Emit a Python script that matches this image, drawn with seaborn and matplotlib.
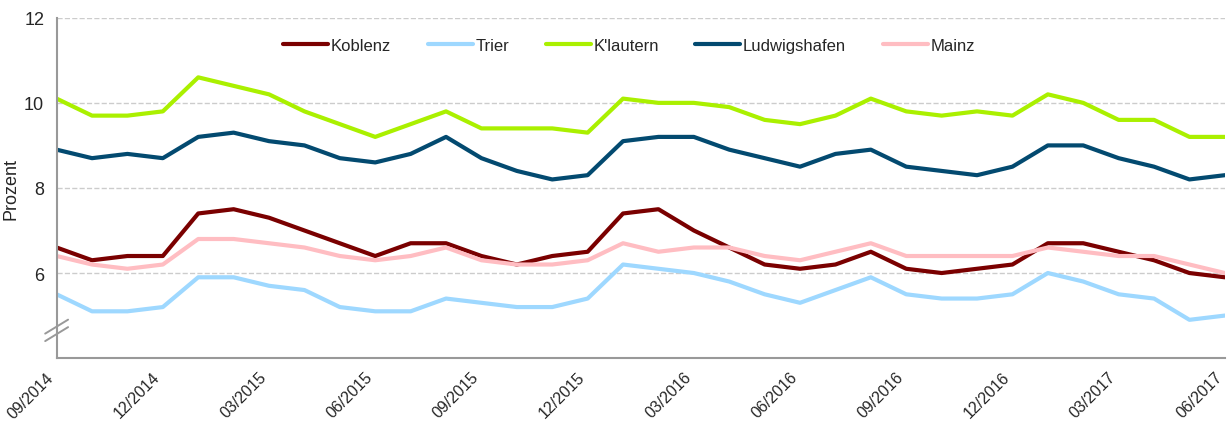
import pandas as pd
import numpy as np
import matplotlib
matplotlib.use("Agg")
import matplotlib.pyplot as plt
import seaborn as sns

# Monatsdaten 09/2014 - 06/2017
months = ['09/2014', '10/2014', '11/2014', '12/2014', '01/2015', '02/2015', '03/2015', '04/2015',
          '05/2015', '06/2015', '07/2015', '08/2015', '09/2015', '10/2015', '11/2015', '12/2015',
          '01/2016', '02/2016', '03/2016', '04/2016', '05/2016', '06/2016', '07/2016', '08/2016',
          '09/2016', '10/2016', '11/2016', '12/2016', '01/2017', '02/2017', '03/2017', '04/2017',
          '05/2017', '06/2017']

koblenz = [6.6, 6.3, 6.4, 6.4, 7.4, 7.5, 7.3, 7.0, 6.7, 6.4, 6.7, 6.7, 6.4, 6.2, 6.4, 6.5, 7.4,
           7.5, 7.0, 6.6, 6.2, 6.1, 6.2, 6.5, 6.1, 6.0, 6.1, 6.2, 6.7, 6.7, 6.5, 6.3, 6.0, 5.9]
trier = [5.5, 5.1, 5.1, 5.2, 5.9, 5.9, 5.7, 5.6, 5.2, 5.1, 5.1, 5.4, 5.3, 5.2, 5.2, 5.4, 6.2,
         6.1, 6.0, 5.8, 5.5, 5.3, 5.6, 5.9, 5.5, 5.4, 5.4, 5.5, 6.0, 5.8, 5.5, 5.4, 4.9, 5.0]
klautern = [10.1, 9.7, 9.7, 9.8, 10.6, 10.4, 10.2, 9.8, 9.5, 9.2, 9.5, 9.8, 9.4, 9.4, 9.4, 9.3, 10.1,
            10.0, 10.0, 9.9, 9.6, 9.5, 9.7, 10.1, 9.8, 9.7, 9.8, 9.7, 10.2, 10.0, 9.6, 9.6, 9.2, 9.2]
ludwigshafen = [8.9, 8.7, 8.8, 8.7, 9.2, 9.3, 9.1, 9.0, 8.7, 8.6, 8.8, 9.2, 8.7, 8.4, 8.2, 8.3, 9.1,
                9.2, 9.2, 8.9, 8.7, 8.5, 8.8, 8.9, 8.5, 8.4, 8.3, 8.5, 9.0, 9.0, 8.7, 8.5, 8.2, 8.3]
mainz = [6.4, 6.2, 6.1, 6.2, 6.8, 6.8, 6.7, 6.6, 6.4, 6.3, 6.4, 6.6, 6.3, 6.2, 6.2, 6.3, 6.7,
         6.5, 6.6, 6.6, 6.4, 6.3, 6.5, 6.7, 6.4, 6.4, 6.4, 6.4, 6.6, 6.5, 6.4, 6.4, 6.2, 6.0]

regions = ['Koblenz', 'Trier', "K'lautern", 'Ludwigshafen', 'Mainz']
colors = ['#7A0000', '#9ED8FF', '#AAF000', '#034A70', '#FFBDC2']

df = pd.DataFrame({'idx': range(len(months)), 'Koblenz': koblenz, 'Trier': trier,
                   "K'lautern": klautern, 'Ludwigshafen': ludwigshafen, 'Mainz': mainz})
df_long = df.melt(id_vars='idx', var_name='Region', value_name='Wert')

sns.set_style('white')
plt.rcParams['font.family'] = ['Liberation Sans', 'DejaVu Sans']

fig = plt.figure(figsize=(12.31, 4.27), dpi=100)
ax = fig.add_axes([0.046, 0.159, 0.949, 0.797])

sns.lineplot(data=df_long, x='idx', y='Wert', hue='Region', hue_order=regions,
             palette=colors, linewidth=3.0, ax=ax)

ax.set_xlim(0, len(months) - 1)
ax.set_ylim(4, 12)
ax.set_yticks([4, 6, 8, 10, 12])
ax.set_yticklabels(['', '6', '8', '10', '12'], fontsize=13)
ax.set_xticks(range(len(months)))
ax.set_xticklabels([m if i % 3 == 0 else '' for i, m in enumerate(months)],
                   rotation=45, ha='right', va='top', fontsize=11.5)
ax.tick_params(axis='both', direction='out', length=5, width=1.3, color='#999999')
ax.tick_params(axis='y', pad=4)
ax.tick_params(axis='x', pad=3)
ax.set_xlabel('')
ax.set_ylabel('Prozent', fontsize=13, labelpad=3)

ax.grid(axis='y', color='#CCCCCC', linestyle='--', linewidth=1.0)
ax.grid(axis='x', visible=False)
for s in ['top', 'right']:
    ax.spines[s].set_visible(False)
for s in ['left', 'bottom']:
    ax.spines[s].set_color('#999999')
    ax.spines[s].set_linewidth(1.5)

# Achsenbruch-Markierung
for dy in (0.0, 0.022):
    ax.plot([-0.0098, 0.0098], [0.05 + dy, 0.091 + dy], transform=ax.transAxes,
            color='#999999', lw=1.4, clip_on=False)

ax.legend(loc='upper center', bbox_to_anchor=(0.49, 0.985), ncol=5, frameon=False,
          fontsize=12, handlelength=2.7, columnspacing=2.2, handletextpad=0.15)

fig.savefig('out.png', dpi=100)
